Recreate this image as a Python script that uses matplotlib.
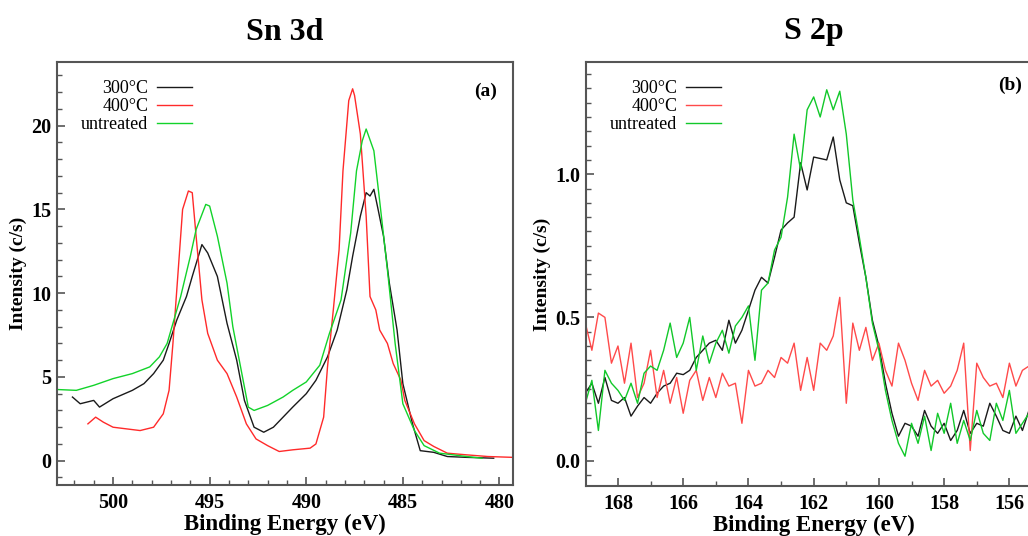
import matplotlib
matplotlib.use("Agg")
import matplotlib.pyplot as plt
from matplotlib.ticker import MultipleLocator

plt.rcParams['font.family'] = ['Liberation Serif', 'DejaVu Serif']

# ---------------- Panel (a): Sn 3d ----------------
sn_300_x = [502.1, 501.7, 501.0, 500.7, 500.0, 499.0, 498.4, 497.9, 497.4, 497.1, 496.7, 496.2,
            495.9, 495.4, 495.1, 494.6, 494.1, 493.6, 493.2, 492.7, 492.2, 491.7, 491.2, 490.7,
            490.0, 489.5, 488.9, 488.4, 487.9, 487.6, 487.2, 486.9, 486.7, 486.5, 486.3, 486.0,
            485.7, 485.3, 485.0, 484.5, 484.1, 483.4, 482.7, 481.7, 480.3]
sn_300_y = [3.8, 3.4, 3.6, 3.2, 3.7, 4.2, 4.6, 5.2, 6.0, 7.0, 8.4, 9.8,
            11.0, 12.9, 12.4, 11.0, 8.2, 6.0, 3.6, 2.0, 1.7, 2.0, 2.6, 3.2,
            4.0, 4.8, 6.2, 7.8, 10.2, 12.2, 14.6, 16.0, 15.8, 16.2, 15.1, 13.4,
            10.6, 7.8, 4.6, 2.2, 0.6, 0.5, 0.25, 0.2, 0.15]

sn_400_x = [501.3, 500.9, 500.5, 500.0, 499.3, 498.6, 497.9, 497.4, 497.1, 496.9, 496.6, 496.4,
            496.1, 495.9, 495.7, 495.4, 495.1, 494.6, 494.1, 493.6, 493.1, 492.6, 492.0, 491.4,
            490.7, 489.8, 489.5, 489.1, 488.9, 488.6, 488.3, 488.1, 487.8, 487.6, 487.5, 487.2,
            486.9, 486.7, 486.4, 486.2, 485.8, 485.5, 485.1, 484.9, 484.4, 483.9, 483.4, 482.7,
            481.7, 480.6, 479.3]
sn_400_y = [2.2, 2.6, 2.3, 2.0, 1.9, 1.8, 2.0, 2.8, 4.2, 7.0, 11.8, 15.0,
            16.1, 16.0, 13.4, 9.6, 7.6, 6.0, 5.2, 3.8, 2.2, 1.3, 0.9, 0.55,
            0.65, 0.75, 1.0, 2.6, 5.6, 9.0, 12.6, 17.3, 21.5, 22.2, 21.8, 19.5,
            14.6, 9.8, 9.0, 7.8, 7.0, 5.8, 4.8, 3.6, 2.2, 1.2, 0.85, 0.45,
            0.35, 0.25, 0.2]

sn_unt_x = [502.9, 501.9, 501.0, 500.0, 499.0, 498.1, 497.6, 497.2, 496.9, 496.5, 496.0, 495.7,
            495.2, 495.0, 494.6, 494.1, 493.8, 493.4, 493.0, 492.7, 492.0, 491.2, 490.7, 490.0,
            489.3, 488.8, 488.2, 487.7, 487.4, 487.1, 486.9, 486.5, 486.2, 485.8, 485.4, 485.0,
            484.4, 483.9, 483.1, 481.7, 480.9]
sn_unt_y = [4.25, 4.2, 4.5, 4.9, 5.2, 5.6, 6.2, 7.0, 8.2, 9.8, 12.2, 13.8,
            15.3, 15.2, 13.4, 10.6, 8.0, 5.6, 3.2, 3.0, 3.3, 3.8, 4.2, 4.7,
            5.7, 7.6, 9.6, 13.6, 17.3, 19.1, 19.8, 18.5, 15.5, 11.4, 7.0, 3.4,
            1.8, 0.9, 0.45, 0.25, 0.15]

# ---------------- Panel (b): S 2p ----------------
s_x = [169.0, 168.8, 168.6, 168.4, 168.2, 168.0, 167.8, 167.6, 167.4, 167.2, 167.0, 166.8,
       166.6, 166.4, 166.2, 166.0, 165.8, 165.6, 165.4, 165.2, 165.0, 164.8, 164.6, 164.4,
       164.2, 164.0, 163.8, 163.6, 163.4, 163.2, 163.0, 162.8, 162.6, 162.4, 162.2, 162.0,
       161.8, 161.6, 161.4, 161.2, 161.0, 160.8, 160.6, 160.4, 160.2, 160.0, 159.8, 159.6,
       159.4, 159.2, 159.0, 158.8, 158.6, 158.4, 158.2, 158.0, 157.8, 157.6, 157.4, 157.2,
       157.0, 156.8, 156.6, 156.4, 156.2, 156.0, 155.8, 155.6, 155.4]
s_300_y = [0.235, 0.27, 0.20, 0.29, 0.21, 0.20, 0.22, 0.155, 0.19, 0.22, 0.20, 0.235,
           0.26, 0.27, 0.305, 0.30, 0.315, 0.36, 0.385, 0.41, 0.42, 0.385, 0.49, 0.41,
           0.455, 0.525, 0.595, 0.64, 0.62, 0.71, 0.805, 0.83, 0.85, 1.04, 0.945, 1.06,
           1.055, 1.05, 1.13, 0.98, 0.90, 0.89, 0.76, 0.64, 0.49, 0.40, 0.27, 0.165,
           0.085, 0.13, 0.12, 0.085, 0.175, 0.12, 0.095, 0.13, 0.07, 0.105, 0.175, 0.095,
           0.13, 0.12, 0.20, 0.155, 0.105, 0.095, 0.155, 0.105, 0.175]
s_400_y = [0.48, 0.385, 0.515, 0.50, 0.34, 0.40, 0.27, 0.41, 0.22, 0.27, 0.385, 0.22,
           0.315, 0.20, 0.29, 0.165, 0.28, 0.315, 0.21, 0.29, 0.22, 0.305, 0.26, 0.27,
           0.13, 0.315, 0.26, 0.27, 0.315, 0.29, 0.36, 0.34, 0.41, 0.245, 0.36, 0.245,
           0.41, 0.385, 0.435, 0.57, 0.20, 0.48, 0.385, 0.465, 0.35, 0.41, 0.315, 0.26,
           0.41, 0.35, 0.27, 0.21, 0.315, 0.26, 0.28, 0.235, 0.26, 0.315, 0.41, 0.035,
           0.34, 0.29, 0.26, 0.27, 0.22, 0.34, 0.26, 0.315, 0.33]
s_unt_y = [0.20, 0.28, 0.105, 0.315, 0.27, 0.245, 0.21, 0.27, 0.20, 0.305, 0.33, 0.315,
           0.385, 0.48, 0.36, 0.41, 0.50, 0.315, 0.435, 0.34, 0.41, 0.455, 0.375, 0.47,
           0.50, 0.54, 0.35, 0.595, 0.62, 0.735, 0.78, 0.92, 1.14, 1.015, 1.225, 1.27,
           1.20, 1.295, 1.225, 1.29, 1.14, 0.91, 0.78, 0.64, 0.48, 0.385, 0.245, 0.14,
           0.06, 0.015, 0.13, 0.06, 0.155, 0.035, 0.165, 0.095, 0.20, 0.06, 0.14, 0.07,
           0.175, 0.095, 0.07, 0.20, 0.14, 0.245, 0.095, 0.13, 0.165]

labels = ['300°C', '400°C', 'untreated']
colors_a = ['#1a1a1a', '#ff2a2a', '#12d32a']
colors_b = ['#1a1a1a', '#ff4a4a', '#12c82a']

W, H = 1028, 536
fig = plt.figure(figsize=(W / 100, H / 100), dpi=100)

def px_axes(l, t, r, b):
    return fig.add_axes([l / W, 1 - b / H, (r - l) / W, (b - t) / H])

ax1 = px_axes(57, 62, 513, 485)
ax2 = px_axes(586, 62, 1042, 486)

def style(ax):
    for s in ax.spines.values():
        s.set_color('#555555')
        s.set_linewidth(1.5)
    ax.tick_params(which='both', direction='in', top=False, right=False, color='#555555')
    ax.tick_params(which='major', length=6, width=1.2, labelsize=14.5)
    ax.tick_params(which='minor', length=3.5, width=1.0)
    ax.tick_params(axis='x', pad=6)
    ax.tick_params(axis='y', pad=4)
    for lab in ax.get_xticklabels() + ax.get_yticklabels():
        lab.set_fontweight('bold')
    ax.set_xlabel('Binding Energy (eV)', fontsize=16.5, fontweight='bold', labelpad=0)
    ax.set_ylabel('Intensity (c/s)', fontsize=14, fontweight='bold', labelpad=3)

# Panel a
for xs, ys, c, lab in zip([sn_300_x, sn_400_x, sn_unt_x], [sn_300_y, sn_400_y, sn_unt_y], colors_a, labels):
    ax1.plot(xs, ys, color=c, lw=1.0, label=lab)
ax1.set_xlim(502.9, 479.3)
ax1.set_ylim(-1.45, 23.8)
ax1.xaxis.set_major_locator(MultipleLocator(5))
ax1.xaxis.set_minor_locator(MultipleLocator(1))
ax1.yaxis.set_major_locator(MultipleLocator(5))
ax1.yaxis.set_minor_locator(MultipleLocator(1))
style(ax1)
ax1.text(0.965, 0.95, '(a)', transform=ax1.transAxes, ha='right', va='top', fontsize=14, fontweight='bold')

# Panel b
for ys, c, lab in zip([s_300_y, s_400_y, s_unt_y], colors_b, labels):
    ax2.plot(s_x, ys, color=c, lw=1.0, label=lab)
ax2.set_xlim(168.98, 155.0)
ax2.set_ylim(-0.089, 1.392)
ax2.xaxis.set_major_locator(MultipleLocator(2))
ax2.xaxis.set_minor_locator(MultipleLocator(1))
ax2.yaxis.set_major_locator(MultipleLocator(0.5))
ax2.yaxis.set_minor_locator(MultipleLocator(0.05))
ax2.yaxis.set_major_formatter(plt.FormatStrFormatter('%.1f'))
style(ax2)
ax2.text(1010 / W, 1 - 85 / H, '(b)', transform=fig.transFigure, ha='center', va='center', fontsize=14, fontweight='bold')

for ax in (ax1, ax2):
    ax.legend(loc='upper left', bbox_to_anchor=(6 / 456, 1.0), frameon=False, markerfirst=False,
              fontsize=13, handlelength=1.9, handletextpad=0.5, labelspacing=0.05,
              borderaxespad=0.6)

fig.text(285 / W, 1 - 32 / H, 'Sn 3d', ha='center', va='center', fontsize=23, fontweight='bold')
fig.text(814 / W, 1 - 32 / H, 'S 2p', ha='center', va='center', fontsize=23, fontweight='bold')

fig.savefig('out.png', dpi=100)
